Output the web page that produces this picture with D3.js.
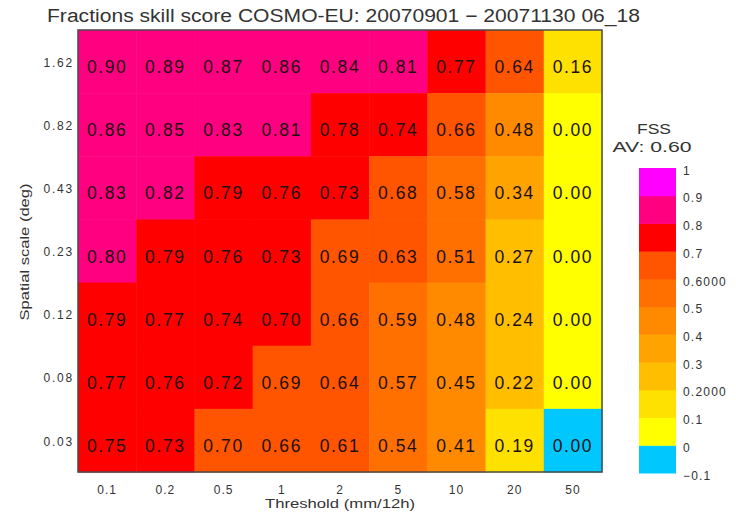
<!DOCTYPE html>
<html>
<head>
<meta charset="utf-8">
<script src="https://cdn.jsdelivr.net/npm/d3@7/dist/d3.min.js"></script>
<style>
  html, body { margin: 0; padding: 0; background: #fff; }
  svg { display: block; font-family: "Liberation Sans", Arial, sans-serif; }
</style>
</head>
<body>
<svg id="chart" width="736" height="515"></svg>
<script>
// Precipitation thresholds (columns) and spatial scales (rows, top to bottom)
const thresholds = ["0.1", "0.2", "0.5", "1", "2", "5", "10", "20", "50"];
const spatialScales = ["1.62", "0.82", "0.43", "0.23", "0.12", "0.08", "0.03"];

// Fractions skill score per spatial scale, one value per threshold
const fss162 = [0.899, 0.89, 0.87, 0.86, 0.84, 0.81, 0.77, 0.64, 0.16];
const fss082 = [0.86, 0.85, 0.83, 0.81, 0.78, 0.74, 0.66, 0.48, 0.00];
const fss043 = [0.83, 0.82, 0.79, 0.76, 0.73, 0.68, 0.58, 0.34, 0.00];
const fss023 = [0.801, 0.79, 0.76, 0.73, 0.69, 0.63, 0.51, 0.27, 0.00];
const fss012 = [0.79, 0.77, 0.74, 0.701, 0.66, 0.59, 0.48, 0.24, 0.00];
const fss008 = [0.77, 0.76, 0.72, 0.69, 0.64, 0.57, 0.45, 0.22, 0.00];
const fss003 = [0.75, 0.73, 0.699, 0.66, 0.61, 0.54, 0.41, 0.19, -0.001];
const fssRows = [fss162, fss082, fss043, fss023, fss012, fss008, fss003];

const averageFss = 0.60;

// Colour classes of the FSS scale
const classBreaks = [0, 0.1, 0.2, 0.3, 0.4, 0.5, 0.6, 0.7, 0.8, 0.9];
const classColors = ["#00c8ff", "#ffff00", "#ffe100", "#ffbf00", "#ffa300",
                     "#ff8a00", "#ff7000", "#ff5500", "#ff0000", "#ff0080", "#ff00ff"];
const legendTickValues = [-0.1, 0, 0.1, 0.2, 0.3, 0.4, 0.5, 0.6, 0.7, 0.8, 0.9, 1];
const legendTickLabels = ["\u22120.1", "0", "0.1", "0.2000", "0.3", "0.4", "0.5",
                          "0.6000", "0.7", "0.8", "0.9", "1"];

const svg = d3.select("#chart");
const fmt = d3.format(".2f");

const color = d3.scaleThreshold().domain(classBreaks).range(classColors);

const grid = { left: 78, right: 602, top: 30, bottom: 472 };
const x = d3.scaleBand().domain(thresholds).range([grid.left, grid.right]);
const y = d3.scaleBand().domain(spatialScales).range([grid.top, grid.bottom]);

// Title
svg.append("text")
  .attr("x", 47).attr("y", 22)
  .attr("textLength", 593).attr("lengthAdjust", "spacingAndGlyphs")
  .attr("font-size", 18).attr("fill", "#333")
  .text("Fractions skill score COSMO\u2010EU: 20070901 \u2212 20071130 06_18");

// Cells
const cells = [];
fssRows.forEach((row, i) => row.forEach((v, j) => {
  cells.push({ scale: spatialScales[i], threshold: thresholds[j], value: v });
}));

svg.append("g").selectAll("rect").data(cells).join("rect")
  .attr("x", d => x(d.threshold))
  .attr("y", d => y(d.scale))
  .attr("width", x.bandwidth() + 0.5)
  .attr("height", y.bandwidth() + 0.5)
  .attr("fill", d => color(d.value));

svg.append("g").selectAll("text").data(cells).join("text")
  .attr("x", d => x(d.threshold) + x.bandwidth() / 2)
  .attr("y", d => y(d.scale) + y.bandwidth() / 2 + 7)
  .attr("text-anchor", "middle")
  .attr("dominant-baseline", "middle")
  .attr("font-size", 17.5)
  .attr("letter-spacing", 1.6)
  .attr("fill", "#1c1010")
  .text(d => fmt(d.value));

// Frame round the grid
svg.append("rect")
  .attr("x", grid.left).attr("y", grid.top)
  .attr("width", grid.right - grid.left).attr("height", grid.bottom - grid.top)
  .attr("fill", "none").attr("stroke", "#4a4a4a").attr("stroke-width", 1.5);

// Axes
const xAxis = svg.append("g")
  .attr("transform", `translate(0,${grid.bottom})`)
  .call(d3.axisBottom(x).tickSize(0).tickPadding(0));
xAxis.select(".domain").remove();
xAxis.selectAll("text")
  .attr("y", 19).attr("dy", null)
  .attr("dominant-baseline", "middle")
  .attr("font-size", 12).attr("letter-spacing", 1)
  .attr("font-family", "Liberation Sans, Arial, sans-serif")
  .attr("fill", "#333");

const yAxis = svg.append("g")
  .attr("transform", `translate(${grid.left},0)`)
  .call(d3.axisLeft(y).tickSize(0).tickPadding(4));
yAxis.select(".domain").remove();
yAxis.selectAll("text")
  .attr("dy", null).attr("y", 2)
  .attr("dominant-baseline", "middle")
  .attr("font-size", 12).attr("letter-spacing", 1.8)
  .attr("font-family", "Liberation Sans, Arial, sans-serif")
  .attr("fill", "#333");

svg.append("text")
  .attr("x", (grid.left + grid.right) / 2).attr("y", 505)
  .attr("text-anchor", "middle").attr("dominant-baseline", "middle")
  .attr("font-size", 12).attr("textLength", 150).attr("lengthAdjust", "spacingAndGlyphs")
  .attr("fill", "#333")
  .text("Threshold (mm/12h)");

svg.append("text")
  .attr("transform", "translate(26,252) rotate(-90)")
  .attr("text-anchor", "middle").attr("dominant-baseline", "middle")
  .attr("font-size", 12).attr("textLength", 137).attr("lengthAdjust", "spacingAndGlyphs")
  .attr("fill", "#333")
  .text("Spatial scale (deg)");

// Colour bar
const legend = { x: 639, width: 37, top: 168, bottom: 473 };
const ly = d3.scaleLinear().domain([-0.1, 1]).range([legend.bottom, legend.top]);
const legendBins = classColors.map((c, i) => ({
  lo: i === 0 ? -0.1 : classBreaks[i - 1],
  hi: i === classBreaks.length ? 1 : classBreaks[i],
  color: c
}));

svg.append("g").selectAll("rect").data(legendBins).join("rect")
  .attr("x", legend.x)
  .attr("y", d => ly(d.hi))
  .attr("width", legend.width)
  .attr("height", d => ly(d.lo) - ly(d.hi) + 0.5)
  .attr("fill", d => d.color);

const lAxis = svg.append("g")
  .attr("transform", `translate(${legend.x + legend.width},0)`)
  .call(d3.axisRight(ly).tickValues(legendTickValues)
    .tickFormat((d, i) => legendTickLabels[i]).tickSize(0).tickPadding(7));
lAxis.select(".domain").remove();
lAxis.selectAll("text")
  .attr("dy", null).attr("y", 3)
  .attr("dominant-baseline", "middle")
  .attr("font-size", 12).attr("letter-spacing", 1.2)
  .attr("font-family", "Liberation Sans, Arial, sans-serif")
  .attr("fill", "#333");

svg.append("text")
  .attr("x", 654).attr("y", 130)
  .attr("text-anchor", "middle").attr("dominant-baseline", "middle")
  .attr("font-size", 15).attr("textLength", 34).attr("lengthAdjust", "spacingAndGlyphs")
  .attr("fill", "#333")
  .text("FSS");

svg.append("text")
  .attr("x", 652).attr("y", 148)
  .attr("text-anchor", "middle").attr("dominant-baseline", "middle")
  .attr("font-size", 15).attr("textLength", 79).attr("lengthAdjust", "spacingAndGlyphs")
  .attr("fill", "#333")
  .text("AV: " + fmt(averageFss));
</script>
</body>
</html>
